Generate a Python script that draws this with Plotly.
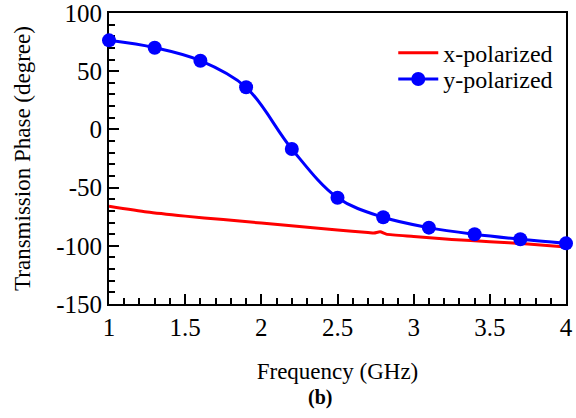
import plotly.graph_objects as go

freq_x = [1.0, 1.25, 1.5, 1.75, 2.0, 2.25, 2.5, 2.7, 2.74, 2.78, 2.82, 3.0, 3.25, 3.5, 3.75, 4.0]
phase_x = [-66, -71, -74.5, -77.5, -80.5, -83.5, -86.5, -88.5, -89, -88, -90, -92, -94.5, -96.5, -98.5, -101]

freq_y = [1.0, 1.3, 1.6, 1.9, 2.2, 2.5, 2.8, 3.1, 3.4, 3.7, 4.0]
phase_y = [76.5, 70.2, 59, 36.2, -16.8, -58.7, -75.5, -84.4, -90.1, -94.4, -97.9]

x_ticks = [1, 1.5, 2, 2.5, 3, 3.5, 4]
x_ticklabels = ["1", "1.5", "2", "2.5", "3", "3.5", "4"]
y_ticks = [-150, -100, -50, 0, 50, 100]
y_ticklabels = ["-150", "-100", "-50", "0", "50", "100"]

FONT = "Liberation Serif"

fig = go.Figure()
fig.add_trace(go.Scatter(
    x=freq_x, y=phase_x, mode="lines", name="x-polarized", legend="legend",
    showlegend=True,
    line=dict(color="#ff0000", width=3, shape="spline", smoothing=0.6),
))
fig.add_trace(go.Scatter(
    x=freq_y, y=phase_y, mode="lines+markers", name="y-polarized", legend="legend2",
    showlegend=True, cliponaxis=False,
    line=dict(color="#0000ff", width=3, shape="spline", smoothing=1.0),
    marker=dict(color="#0000ff", size=14),
))

axis_common = dict(
    showline=True, linecolor="black", linewidth=2, mirror=True,
    showgrid=False, zeroline=False, automargin=False,
    ticks="inside", ticklen=10, tickwidth=1.5, tickcolor="black",
    tickfont=dict(family=FONT, size=25, color="black"),
    ticklabeloverflow="allow", layer="below traces",
)

fig.update_xaxes(
    range=[1, 4], tickvals=x_ticks, ticktext=x_ticklabels,
    minor=dict(dtick=0.1, ticks="inside", ticklen=6, tickwidth=1.5, tickcolor="black"),
    title=dict(text="Frequency (GHz)", font=dict(family=FONT, size=23, color="black"), standoff=23),
    **axis_common,
)
fig.update_yaxes(
    range=[-150, 100.001], tickvals=y_ticks, ticktext=y_ticklabels,
    minor=dict(dtick=10, ticks="inside", ticklen=6, tickwidth=1.5, tickcolor="black"),
    title=dict(text="Transmission Phase (degree)", font=dict(family=FONT, size=23, color="black"), standoff=19),
    **axis_common,
)

fig.add_annotation(
    text="<b>(b)</b>", xref="paper", yref="paper", x=0.462, y=-0.32,
    showarrow=False, font=dict(family=FONT, size=20, color="black"),
    xanchor="center", yanchor="middle",
)

legend_common = dict(
    xanchor="left", yanchor="middle", visible=True,
    bgcolor="rgba(0,0,0,0)", borderwidth=0,
    font=dict(family=FONT, size=24, color="black"),
    itemwidth=40,
)

fig.update_layout(
    width=576, height=418,
    showlegend=True,
    margin=dict(l=109, r=10, t=13, b=114, autoexpand=False),
    paper_bgcolor="white", plot_bgcolor="white",
    font=dict(family=FONT, color="black"),
    legend=dict(x=0.622, y=0.862, **legend_common),
    legend2=dict(x=0.622, y=0.772, **legend_common),
)

fig.write_html(
    "out.html",
    config={"displayModeBar": False},
    post_script="document.body.style.margin='0';document.body.style.padding='0';",
)
